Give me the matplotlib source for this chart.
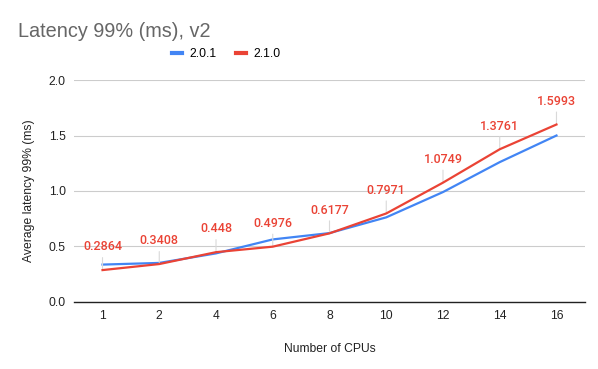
import numpy as np
import matplotlib.pyplot as plt

#chart data
cpus = ["1", "2", "4", "6", "8", "10", "12", "14", "16"]
v201 = [0.336, 0.351, 0.437, 0.563, 0.620, 0.762, 0.990, 1.260, 1.500]
v210 = [0.2864, 0.3408, 0.448, 0.4976, 0.6177, 0.7971, 1.0749, 1.3761, 1.5993]
v210_labels = ["0.2864", "0.3408", "0.448", "0.4976", "0.6177", "0.7971", "1.0749", "1.3761", "1.5993"]

blue = "#4285F4"
red = "#EA4335"

fig = plt.figure(figsize=(5.98, 3.69), dpi=100)
ax = fig.add_axes([0.124, 0.182, 0.854, 0.601])

x = np.arange(len(cpus))
ax.plot(x, v201, color=blue, lw=1.6, label="2.0.1", zorder=3)
ax.plot(x, v210, color=red, lw=1.6, label="2.1.0", zorder=4)

#data labels for 2.1.0 with small leader lines
for xi, yi, lab in zip(x, v210, v210_labels):
    ax.annotate(lab, (xi, yi), xytext=(0, 12), textcoords="offset points",
                ha="center", va="bottom", color=red, fontsize=9,
                family="Roboto", fontweight="medium",
                arrowprops=dict(arrowstyle="-", color="#d9d9d9", lw=0.8,
                                shrinkA=1, shrinkB=0))

ax.set_xlim(-0.5, len(cpus) - 0.5)
ax.set_ylim(0, 2.0)
ax.set_yticks([0, 0.5, 1.0, 1.5, 2.0])
ax.set_yticklabels(["0.0", "0.5", "1.0", "1.5", "2.0"])
ax.set_xticks(x)
ax.set_xticklabels(cpus)
ax.tick_params(length=0, labelsize=8.7, colors="#222222", pad=6)
for t in ax.get_xticklabels() + ax.get_yticklabels():
    t.set_family("Liberation Sans")

ax.grid(axis="y", color="#cccccc", lw=0.8)
ax.set_axisbelow(True)
for s in ["top", "right", "left"]:
    ax.spines[s].set_visible(False)
ax.spines["bottom"].set_color("#222222")
ax.spines["bottom"].set_linewidth(1.0)
ax.spines["bottom"].set_zorder(2)

ax.set_xlabel("Number of CPUs", fontsize=8.7, family="Liberation Sans", color="#222222", labelpad=15)
ax.set_ylabel("Average latency 99% (ms)", fontsize=8.7, family="Liberation Sans", color="#222222", labelpad=10)

fig.text(0.030, 0.915, "Latency 99% (ms), v2", fontsize=14.3, color="#666666",
         family="Liberation Sans", va="center")

leg = fig.legend(loc="center", bbox_to_anchor=(0.378, 0.854), ncol=2, frameon=False,
                 handlelength=0.85, handletextpad=0.6, columnspacing=1.6,
                 prop={"family": "Liberation Sans", "size": 8.7})
for h in leg.get_lines():
    h.set_linewidth(3)

fig.savefig("out.png", dpi=100)
